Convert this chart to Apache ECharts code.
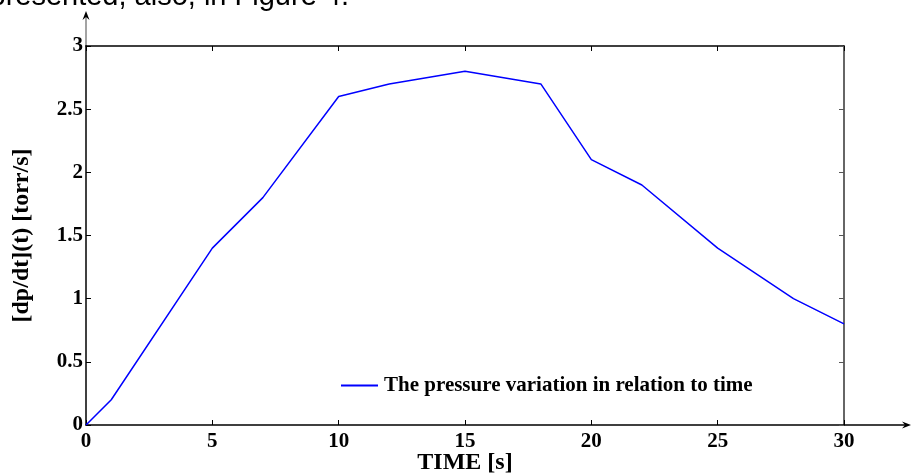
<!DOCTYPE html>
<html><head><meta charset="utf-8">
<script src="https://cdn.jsdelivr.net/npm/echarts@6/dist/echarts.min.js"></script>
<style>html,body{margin:0;padding:0;background:#fff}#c{width:912px;height:474px}</style>
</head><body><div id="c"></div>
<script>
const timeValues = [0, 1, 5, 7, 10, 12, 15, 18, 20, 22, 25, 28, 30];
const rateValues = [0, 0.2, 1.4, 1.8, 2.6, 2.7, 2.8, 2.7, 2.1, 1.9, 1.4, 1.0, 0.8];
const seriesName = 'The pressure variation in relation to time';
const xTitle = 'TIME [s]';
const yTitle = '[dp/dt](t) [torr/s]';
const captionText = 'presented, also, in Figure 4.';

(function () {
const chart = echarts.init(document.getElementById('c'), null, {renderer: 'canvas'});
const serif = '"Liberation Serif","Times New Roman",serif';
const labelStyle = {fontFamily: serif, fontWeight: 'bold', fontSize: 21, color: '#000'};
const data = timeValues.map((t, i) => [t, rateValues[i]]);

chart.setOption({
  animation: false,
  grid: {left: 86, right: 68, top: 46, bottom: 49, containLabel: false, outerBoundsMode: 'none'},
  legend: {
    data: [seriesName], left: 341, top: 375, itemWidth: 37, itemHeight: 10, itemGap: 4, padding: 0,
    icon: 'path://M0,4L36,4L36,6L0,6Z',
    textStyle: {fontFamily: serif, fontWeight: 'bold', fontSize: 21, color: '#000', padding: [0, 0, 0, 1]}
  },
  xAxis: [{
    type: 'value', min: 0, max: 30, interval: 5,
    name: xTitle, nameLocation: 'middle', nameGap: 26, nameMoveOverlap: false,
    nameTextStyle: {fontFamily: serif, fontWeight: 'bold', fontSize: 24, color: '#000'},
    axisLine: {show: true, lineStyle: {color: '#000', width: 1.5}},
    axisTick: {show: true, inside: true, length: 5, lineStyle: {color: '#000'}},
    axisLabel: Object.assign({margin: 6}, labelStyle),
    splitLine: {show: false}
  }, {
    type: 'value', min: 0, max: 30, interval: 5, position: 'top',
    axisLine: {show: true, onZero: false, lineStyle: {color: '#000', width: 1.5}},
    axisTick: {show: true, inside: true, length: 5, lineStyle: {color: '#000'}},
    axisLabel: {show: false}, splitLine: {show: false}
  }],
  yAxis: [{
    type: 'value', min: 0, max: 3, interval: 0.5,
    name: yTitle, nameLocation: 'middle', nameGap: 52, nameRotate: 90, nameMoveOverlap: false,
    nameTextStyle: {fontFamily: serif, fontWeight: 'bold', fontSize: 24, color: '#000'},
    axisLine: {show: true, lineStyle: {color: '#000', width: 1.5}},
    axisTick: {show: true, inside: true, length: 5, lineStyle: {color: '#000'}},
    axisLabel: Object.assign({margin: 3, padding: [4, 0, 0, 0]}, labelStyle),
    splitLine: {show: false}
  }, {
    type: 'value', min: 0, max: 3, interval: 0.5, position: 'right',
    axisLine: {show: true, onZero: false, lineStyle: {color: '#333', width: 1.5}},
    axisTick: {show: true, inside: true, length: 5, lineStyle: {color: '#555'}},
    axisLabel: {show: false}, splitLine: {show: false}
  }],
  series: [{
    name: seriesName, type: 'line', data: data, showSymbol: false,
    lineStyle: {color: '#0000ff', width: 1.5}, itemStyle: {color: '#0000ff'}
  }]
});

const o = chart.convertToPixel({xAxisIndex: 0, yAxisIndex: 0}, [0, 0]);
const pTop = chart.convertToPixel({xAxisIndex: 0, yAxisIndex: 0}, [0, 3]);
const pRight = chart.convertToPixel({xAxisIndex: 0, yAxisIndex: 0}, [30, 0]);
chart.setOption({
  graphic: [
    {type: 'line', shape: {x1: o[0], y1: pTop[1], x2: o[0], y2: 14}, style: {stroke: '#666', lineWidth: 1.2}},
    {type: 'polygon', shape: {points: [[o[0], 11], [o[0] - 3.5, 20], [o[0], 17], [o[0] + 3.5, 20]]}, style: {fill: '#000'}},
    {type: 'line', shape: {x1: pRight[0], y1: o[1], x2: 908, y2: o[1]}, style: {stroke: '#000', lineWidth: 1.5}},
    {type: 'polygon', shape: {points: [[911, o[1]], [902, o[1] - 3.5], [905, o[1]], [902, o[1] + 3.5]]}, style: {fill: '#000'}},
    {type: 'text', x: 349, y: -18, style: {text: captionText, font: '29px "Liberation Sans", Arial, sans-serif', fill: '#000', align: 'right', verticalAlign: 'top'}}
  ]
});
})();
</script></body></html>
